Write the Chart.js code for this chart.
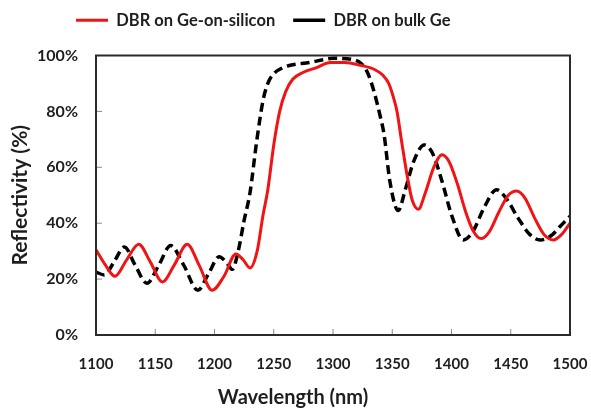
<!DOCTYPE html>
<html>
<head>
<meta charset="utf-8">
<script src="https://cdn.jsdelivr.net/npm/chart.js@4"></script>
<style>
  html, body { margin: 0; padding: 0; background: #fff; overflow: hidden; }
  #wrap { width: 591px; height: 408px; }
  canvas { display: block; }
</style>
</head>
<body>
<div id="wrap"><canvas id="dbr"></canvas></div>
<script>
// wavelength (nm) / reflectivity (%)
const siWave = [1100, 1108, 1116, 1126, 1136, 1146, 1156, 1166, 1177, 1187, 1198, 1208, 1218, 1224, 1230, 1236, 1241, 1245, 1250, 1255, 1260, 1266, 1275, 1285, 1298, 1310, 1323, 1335, 1342, 1347, 1351, 1354, 1358, 1363, 1367, 1372, 1378, 1385, 1392, 1398, 1405, 1412, 1418, 1425, 1432, 1440, 1448, 1455, 1462, 1470, 1478, 1486, 1493, 1500];
const siRefl = [30.5, 25, 21, 27, 32.5, 26, 19, 25, 32.5, 25, 16, 21, 29, 27, 24, 30, 43, 52, 68, 80, 87, 91.5, 94, 95.5, 97.5, 97.5, 96.5, 95, 93, 90, 85, 80, 69, 56, 48, 45, 51, 60, 64.5, 62, 54, 44, 37.5, 34.5, 37, 44, 50, 51.5, 49, 42, 36, 34, 36, 40];

const bulkWave = [1100, 1107, 1115, 1124, 1133, 1143, 1153, 1163, 1174, 1186, 1195, 1204, 1210, 1215, 1220, 1225, 1230, 1235.5, 1241, 1245, 1250, 1257, 1264, 1280, 1292, 1300, 1317, 1324, 1329, 1334, 1340, 1343, 1348, 1355, 1361, 1368, 1377, 1384, 1392, 1400, 1410, 1418, 1428, 1438, 1446, 1456, 1466, 1475, 1484, 1492, 1500];
const bulkRefl = [22.5, 21.5, 26, 31.5, 25, 18.5, 25, 32, 25, 16, 22, 28, 26, 23.5, 30, 41, 51, 69, 84, 90, 93.5, 95.5, 96.5, 97.5, 98.5, 99, 98.5, 97, 94, 88, 78, 72, 55, 44.5, 52, 62, 68, 65, 55, 43, 34, 37, 46, 52, 49, 42, 36, 34, 35.5, 39, 42.5];

const xTicks = [1100, 1150, 1200, 1250, 1300, 1350, 1400, 1450, 1500];
const yTicks = [0, 20, 40, 60, 80, 100];

const toPoints = (xs, ys) => xs.map((v, i) => ({ x: v, y: ys[i] }));

const FONT = 'Lato';
const TXT = '#1e1e1e';

// box around the plot plus small inward tick marks
const framePlugin = {
  id: 'frame',
  afterDatasetsDraw(chart) {
    const { ctx, chartArea: a, scales } = chart;
    ctx.save();
    ctx.strokeStyle = '#8a8a8a';
    ctx.lineWidth = 1;
    ctx.beginPath();
    scales.x.ticks.forEach(t => {
      const px = scales.x.getPixelForValue(t.value);
      ctx.moveTo(px, a.bottom);
      ctx.lineTo(px, a.bottom - 6);
    });
    scales.y.ticks.forEach(t => {
      const py = scales.y.getPixelForValue(t.value);
      ctx.moveTo(a.left, py);
      ctx.lineTo(a.left + 6, py);
    });
    ctx.stroke();
    ctx.strokeStyle = '#2b2b2b';
    ctx.lineWidth = 2;
    ctx.strokeRect(a.left, a.top, a.right - a.left, a.bottom - a.top);
    ctx.restore();
  }
};

// legend in the figure sits left of centre and close to the top edge
const legendShift = {
  id: 'legendShift',
  afterLayout(chart) {
    chart.legend.left = 58;
    chart.legend.top -= 17;
  }
};

new Chart(document.getElementById('dbr'), {
  type: 'line',
  data: {
    datasets: [
      {
        label: 'DBR on Ge-on-silicon',
        data: toPoints(siWave, siRefl),
        borderColor: '#f01414',
        backgroundColor: '#f01414',
        borderWidth: 3,
        pointRadius: 0,
        cubicInterpolationMode: 'monotone'
      },
      {
        label: 'DBR on bulk Ge',
        data: toPoints(bulkWave, bulkRefl),
        borderColor: '#000',
        backgroundColor: '#000',
        borderWidth: 3.5,
        borderDash: [9, 5],
        pointRadius: 0,
        cubicInterpolationMode: 'monotone'
      }
    ]
  },
  options: {
    responsive: true,
    maintainAspectRatio: false,
    animation: false,
    layout: { padding: { top: 11, right: 21, left: 0, bottom: 0 } },
    plugins: {
      legend: {
        align: 'start',
        labels: {
          usePointStyle: true,
          pointStyle: 'line',
          pointStyleWidth: 32,
          boxHeight: 17,
          padding: 18,
          color: TXT,
          font: { family: FONT, size: 16.5, weight: 'bold' }
        }
      },
      tooltip: { enabled: false }
    },
    scales: {
      x: {
        type: 'linear',
        min: 1100,
        max: 1500,
        afterBuildTicks: s => { s.ticks = xTicks.map(v => ({ value: v })); },
        afterFit: s => { s.height = 73; },
        grid: { drawOnChartArea: false, drawTicks: true, tickLength: 18, color: 'rgba(0,0,0,0)' },
        border: { display: false },
        ticks: {
          padding: 2,
          color: TXT,
          font: { family: FONT, size: 15, weight: 'bold' },
          callback: v => String(v)
        },
        title: {
          display: true,
          text: 'Wavelength (nm)\u2002\u2002\u2002\u2002\u2002\u2002\u2002\u2002',
          color: TXT,
          padding: 0,
          font: { family: FONT, size: 20, weight: 'bold', lineHeight: 1.0 }
        }
      },
      y: {
        min: 0,
        max: 100,
        afterBuildTicks: s => { s.ticks = yTicks.map(v => ({ value: v })); },
        afterFit: s => { s.width = 96; },
        grid: { display: false, drawTicks: false },
        border: { display: false },
        ticks: {
          padding: 18,
          color: TXT,
          font: { family: FONT, size: 16, weight: 'bold' },
          callback: v => v + '%'
        },
        title: {
          display: true,
          text: 'Reflectivity (%)',
          color: TXT,
          padding: 8,
          font: { family: FONT, size: 21, weight: 'bold' }
        }
      }
    }
  },
  plugins: [framePlugin, legendShift]
});
</script>
</body>
</html>
